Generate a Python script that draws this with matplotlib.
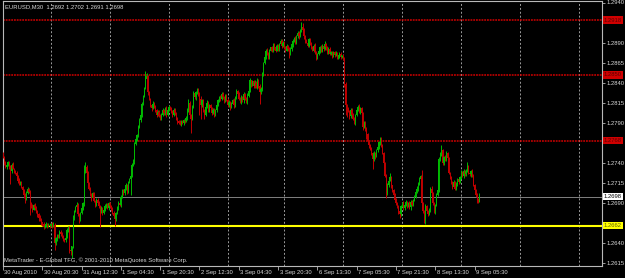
import matplotlib
matplotlib.use('Agg')
import matplotlib.pyplot as plt
import numpy as np

plt.rcParams['font.family'] = ['Liberation Sans', 'DejaVu Sans']

# ---------------- data (prices in pips, 1 pip = 0.0001) ----------------
first_open = 12752
closes = [
    12748, 12740, 12735, 12738, 12741, 12736, 12730, 12738, 12733, 12729,
    12728, 12724, 12718, 12715, 12716, 12710, 12706, 12700, 12696, 12702,
    12708, 12704, 12690, 12686, 12682, 12688, 12684, 12680, 12676, 12672,
    12670, 12666, 12664, 12660, 12662, 12664, 12661, 12663, 12662, 12664,
    12661, 12663, 12640, 12646, 12650, 12648, 12654, 12652, 12649, 12645,
    12644, 12647, 12656, 12660, 12632, 12630, 12636, 12672, 12680, 12685,
    12688, 12676, 12670, 12678, 12684, 12690, 12730, 12735, 12728, 12715,
    12708, 12700, 12696, 12702, 12693, 12688, 12694, 12690, 12686, 12680,
    12684, 12678, 12682, 12686, 12688, 12684, 12690, 12686, 12682, 12678,
    12674, 12670, 12678, 12684, 12690, 12688, 12698, 12706, 12702, 12708,
    12712, 12704, 12716, 12720, 12724, 12738, 12742, 12764, 12770, 12775,
    12785, 12793, 12800, 12814, 12824, 12833, 12845, 12848, 12828, 12820,
    12812, 12808, 12814, 12810, 12806, 12800, 12804, 12798, 12796, 12800,
    12806, 12802, 12808, 12800, 12806, 12810, 12808, 12804, 12800, 12806,
    12802, 12796, 12792, 12790, 12788, 12792, 12790, 12794, 12792, 12796,
    12806, 12815, 12800, 12795, 12810, 12827, 12822, 12828, 12832, 12826,
    12820, 12812, 12818, 12806, 12800, 12810, 12815, 12806, 12812, 12808,
    12802, 12806, 12800, 12806, 12812, 12818, 12822, 12820, 12826, 12822,
    12818, 12824, 12818, 12812, 12816, 12810, 12814, 12818, 12812, 12822,
    12830, 12826, 12820, 12816, 12822, 12818, 12826, 12820, 12816, 12824,
    12830, 12843, 12838, 12842, 12836, 12840, 12834, 12844, 12836, 12828,
    12832, 12852, 12864, 12872, 12880, 12876, 12872, 12880, 12884, 12880,
    12888, 12884, 12880, 12886, 12882, 12888, 12892, 12886, 12890, 12884,
    12880, 12886, 12882, 12876, 12882, 12888, 12892, 12896, 12890, 12898,
    12902, 12898, 12905, 12910, 12906, 12898, 12892, 12890, 12886, 12894,
    12890, 12884, 12880, 12886, 12878, 12872, 12876, 12880, 12884, 12880,
    12886, 12882, 12888, 12884, 12878, 12882, 12876, 12878, 12874, 12878,
    12874, 12876, 12872, 12874, 12876, 12872, 12874, 12870, 12838, 12812,
    12808, 12805, 12798, 12806, 12800, 12795, 12790, 12800, 12806, 12810,
    12804, 12808, 12802, 12785, 12790, 12782, 12776, 12768, 12762, 12758,
    12752, 12745, 12752, 12748, 12756, 12760, 12766, 12770, 12762, 12752,
    12740, 12724, 12702, 12712, 12718, 12722, 12712, 12706, 12700, 12694,
    12690, 12686, 12680, 12676, 12686, 12690, 12684, 12688, 12692, 12686,
    12690, 12685, 12692, 12688, 12694, 12698, 12704, 12708, 12714, 12720,
    12724, 12690, 12680, 12668, 12686, 12680, 12676, 12682, 12708, 12702,
    12690, 12680, 12688, 12700, 12706, 12745, 12752, 12756, 12740, 12748,
    12744, 12752, 12746, 12728, 12722, 12716, 12710, 12716, 12708, 12714,
    12720, 12716, 12722, 12728, 12724, 12730, 12726, 12730, 12736, 12728,
    12726, 12730, 12724, 12712, 12706, 12700, 12694, 12692, 12698,
]
upper_wicks = [
    2, 1, 2, 3, 2, 1, 2, 2, 3, 1,  2, 2, 1, 3, 2, 2, 1, 2, 2, 3,
    2, 1, 2, 2, 3, 1, 2, 2, 1, 2,  3, 2, 1, 2, 2, 3, 1, 2, 2, 1,
    2, 3, 2, 2, 1, 2, 3, 2, 2, 1,  2, 2, 3, 1, 2, 2, 1, 3, 2, 2,
    3, 2, 2, 1, 2, 2, 8, 6, 2, 2,  1, 2, 3, 2, 2, 1, 2, 2, 3, 2,
    2, 1, 2, 3, 2, 2, 1, 2, 2, 3,  2, 2, 1, 2, 3, 2, 2, 1, 2, 2,
    3, 2, 2, 1, 2, 2, 3, 2, 2, 1,  2, 3, 2, 2, 1, 2, 10, 4, 2, 2,
    1, 2, 3, 2, 2, 1, 2, 2, 3, 2,  2, 1, 2, 3, 2, 2, 1, 2, 2, 3,
    2, 2, 1, 2, 3, 2, 2, 1, 2, 2,  3, 5, 2, 1, 2, 3, 2, 2, 1, 2,
    2, 3, 2, 2, 1, 2, 3, 2, 2, 1,  2, 2, 3, 1, 2, 2, 1, 3, 2, 2,
    1, 2, 2, 3, 2, 1, 2, 2, 3, 2,  2, 1, 2, 2, 3, 2, 2, 1, 2, 3,
    2, 3, 1, 2, 2, 3, 2, 2, 1, 2,  3, 2, 2, 1, 2, 3, 2, 2, 1, 2,
    2, 1, 3, 2, 2, 1, 2, 3, 2, 2,  2, 2, 1, 2, 3, 2, 2, 1, 2, 2,
    3, 2, 2, 6, 5, 2, 1, 2, 3, 2,  2, 1, 2, 2, 3, 2, 1, 2, 2, 3,
    2, 2, 4, 1, 2, 2, 3, 2, 1, 2,  2, 3, 2, 1, 2, 2, 1, 2, 2, 3,
    2, 2, 1, 2, 3, 2, 2, 1, 2, 2,  3, 2, 2, 1, 2, 2, 3, 2, 1, 2,
    2, 2, 3, 2, 1, 2, 2, 2, 3, 2,  2, 1, 2, 3, 2, 6, 2, 1, 2, 2,
    3, 2, 2, 1, 2, 2, 3, 2, 2, 1,  2, 3, 2, 2, 1, 2, 2, 3, 2, 2,
    1, 7, 2, 2, 3, 2, 1, 2, 2, 3,  2, 2, 1, 2, 2, 3, 2, 6, 2, 1,
    2, 3, 2, 2, 1, 2, 2, 3, 2, 2,  1, 2, 2, 3, 2, 2, 1, 2, 5, 2,
    2, 1, 3, 2, 2, 1, 2, 2, 4,
]
lower_wicks = [
    2, 3, 1, 2, 2, 3, 16, 2, 1, 2,  2, 1, 3, 2, 2, 1, 2, 3, 6, 2,
    1, 2, 15, 2, 3, 1, 2, 2, 3, 4,  2, 3, 2, 2, 1, 2, 2, 1, 3, 2,
    2, 1, 9, 2, 3, 2, 1, 3, 2, 2,  3, 2, 1, 2, 4, 5, 8, 2, 3, 1,
    2, 2, 5, 2, 1, 2, 3, 2, 2, 3,  2, 1, 3, 2, 2, 3, 1, 2, 2, 20,
    2, 3, 1, 2, 2, 1, 3, 2, 2, 2,  3, 8, 2, 1, 2, 2, 3, 1, 2, 2,
    2, 3, 2, 1, 20, 2, 2, 3, 1, 2,  2, 1, 2, 3, 2, 2, 1, 2, 3, 2,
    2, 3, 1, 2, 2, 3, 2, 1, 2, 3,  1, 2, 2, 3, 2, 1, 2, 2, 3, 1,
    2, 2, 3, 2, 1, 2, 2, 3, 2, 1,  2, 2, 3, 18, 2, 1, 2, 3, 2, 2,
    20, 17, 2, 3, 5, 2, 1, 2, 3, 2,  2, 1, 3, 2, 2, 1, 2, 3, 2, 2,
    3, 2, 1, 2, 2, 4, 2, 1, 3, 2,  2, 3, 2, 1, 2, 2, 3, 2, 1, 2,
    2, 1, 3, 2, 2, 3, 1, 2, 2, 14,  2, 2, 3, 1, 2, 2, 3, 2, 1, 2,
    2, 3, 2, 1, 2, 2, 1, 3, 2, 2,  2, 1, 2, 5, 2, 2, 3, 1, 2, 2,
    2, 3, 1, 2, 2, 3, 2, 1, 2, 2,  3, 2, 1, 2, 2, 4, 2, 1, 3, 2,
    2, 2, 1, 3, 2, 2, 1, 2, 3, 2,  2, 1, 2, 2, 3, 2, 1, 2, 3, 12,
    11, 2, 3, 2, 1, 2, 2, 3, 2, 1,  2, 3, 2, 4, 2, 2, 6, 2, 3, 2,
    2, 13, 2, 3, 1, 2, 2, 3, 2, 1,  3, 2, 5, 2, 2, 1, 3, 2, 2, 3,
    2, 2, 3, 4, 2, 1, 2, 3, 2, 2,  1, 2, 3, 2, 2, 1, 2, 2, 3, 2,
    2, 3, 2, 3, 4, 2, 2, 1, 3, 2,  2, 2, 3, 2, 1, 2, 2, 3, 2, 2,
    1, 2, 3, 2, 2, 2, 3, 1, 2, 2,  3, 2, 1, 2, 2, 3, 2, 2, 1, 2,
    2, 3, 2, 1, 2, 2, 4, 2, 1,
]

time_label_bars = [0, 32, 64, 96, 128, 160, 192, 224, 256, 288, 320, 352, 384]
time_labels = ['30 Aug 2010', '30 Aug 20:30', '31 Aug 12:30', '1 Sep 04:30',
               '1 Sep 20:30', '2 Sep 12:30', '3 Sep 04:30', '3 Sep 20:30',
               '6 Sep 13:30', '7 Sep 05:30', '7 Sep 21:30', '8 Sep 13:30',
               '9 Sep 05:30']
day_start_bars = [39, 87, 135, 183, 229, 277, 325, 373, 421, 469]

red_levels = [1.2918, 1.2850, 1.2768]
bid_level = 1.2698
yellow_level = 1.2662
# price scale labels that stay visible (the others are covered by level labels)
price_ticks = [1.2615, 1.2640, 1.2690, 1.2715, 1.2740, 1.2790,
               1.2815, 1.2840, 1.2865, 1.2890, 1.2940]
header = 'EURUSD,M30  1.2692 1.2702 1.2691 1.2698'
footer = 'MetaTrader - E-Global TFG, \u00a9 2001-2010 MetaQuotes Software Corp.'

# ---------------- derived OHLC ----------------
PIP = 1e-4
c = np.array(closes, dtype=float) * PIP
o = np.array([first_open] + closes[:-1], dtype=float) * PIP
hi = np.maximum(o, c) + np.array(upper_wicks) * PIP
lo = np.minimum(o, c) - np.array(lower_wicks) * PIP
idx = np.arange(len(c))

GREEN = '#00b800'
RED = '#c00000'
cols = np.where(c >= o, GREEN, RED)

FS = 4.2
TXT = '#d8d8d8'

W, H = 625, 278
fig = plt.figure(figsize=(W / 100, H / 100), dpi=100, facecolor='black')
ax = fig.add_axes([2.5 / W, 12 / H, (602 - 2.5) / W, (277 - 12) / H])
ax.set_facecolor('black')

px_per_bar = 1.228
ax.set_xlim(-0.5 / px_per_bar, (602 - 3) / px_per_bar)
pip_per_px = 1.2461e-4
ax.set_ylim(1.2940 - (266 - 2.5) * pip_per_px, 1.2940 + 1.5 * pip_per_px)

# vertical dashed day grid
for b in day_start_bars:
    ax.axvline(b, color='#9a9a9a', lw=0.7, ls=(0, (2, 2)), zorder=1)

# horizontal levels
for lv in red_levels:
    ax.axhline(lv, color='#d00000', lw=1.1, ls=(0, (1.2, 0.6)), zorder=2)
ax.axhline(bid_level, color='#808080', lw=0.7, zorder=2)
ax.axhline(yellow_level, color='#ffff00', lw=1.5, zorder=2)

# candles
ax.vlines(idx, lo, hi, colors=cols, lw=0.7, zorder=3)
body_h = np.maximum(np.abs(c - o), 0.3 * PIP)
ax.bar(idx, body_h, bottom=np.minimum(o, c), width=0.8, color=cols,
       linewidth=0, zorder=3)

# axes style
for s in ax.spines.values():
    s.set_color('#b8b8b8')
    s.set_linewidth(0.8)
ax.yaxis.tick_right()
ax.set_yticks(price_ticks)
ax.set_yticklabels([f'{p:.4f}' for p in price_ticks])
ax.tick_params(axis='y', colors='#b8b8b8', labelcolor=TXT, length=2,
               width=0.6, pad=1.2, labelsize=FS)
ax.set_xticks(time_label_bars)
ax.set_xticklabels([])
ax.tick_params(axis='x', colors='#b8b8b8', length=3, width=0.6)
xt = ax.get_xaxis_transform()
for b, t in zip(time_label_bars, time_labels):
    ax.text(b + 1.2, -0.014, t, transform=xt, ha='left', va='top',
            fontsize=FS, color=TXT, clip_on=False)

# price labels for levels
yt = ax.get_yaxis_transform()
def level_label(lv, fc, tc):
    ax.text(1.003, lv, f'{lv:.4f}', transform=yt, ha='left', va='center',
            fontsize=FS, color=tc, clip_on=False, zorder=10,
            bbox=dict(boxstyle='square,pad=0.22', fc=fc, ec='none'))
for lv in red_levels:
    level_label(lv, '#d00000', '#5a0000')
level_label(bid_level, '#ffffff', '#000000')
level_label(yellow_level, '#ffff00', '#606000')

ax.text(0.004, 0.988, header, transform=ax.transAxes, ha='left', va='top',
        fontsize=FS, color=TXT)
ax.text(0.002, 0.012, footer, transform=ax.transAxes, ha='left', va='bottom',
        fontsize=FS, color=TXT)

fig.savefig('out.png', dpi=100, facecolor='black')
